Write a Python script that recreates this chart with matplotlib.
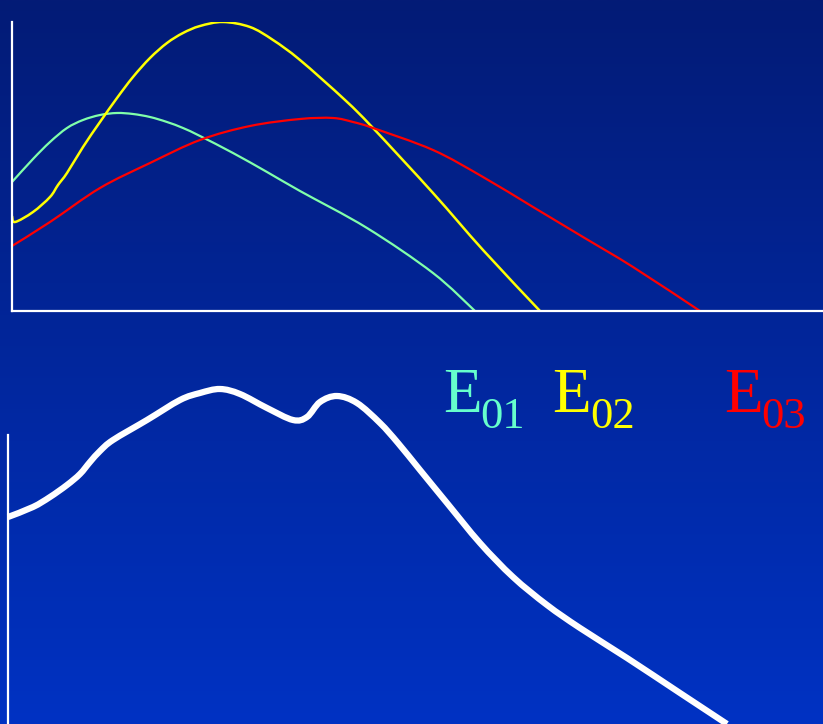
import numpy as np
import matplotlib.pyplot as plt
from matplotlib.path import Path
from matplotlib.patches import PathPatch

# top panel: three modes (x from left axis, height above baseline)
x_e01 = [0, 21, 38, 55, 71, 88, 105, 121, 138, 155, 171, 188, 221, 255, 288, 355, 421, 463]
y_e01 = [129, 152, 169, 183, 191, 196, 198, 197, 194, 189, 183, 175, 158, 139, 120, 83, 38, 0]

x_e02 = [0, 3, 21, 38, 46, 55, 71, 88, 105, 121, 138, 155, 171, 188, 211, 238, 261, 288, 333, 361, 421, 471, 528]
y_e02 = [95, 89, 99, 114, 126, 138, 164, 189, 213, 234, 253, 268, 278, 285, 289, 284, 271, 251, 211, 183, 118, 61, 0]

x_e03 = [0, 38, 88, 138, 188, 238, 288, 321, 341, 361, 421, 471, 521, 571, 621, 688]
y_e03 = [65, 89, 123, 148, 171, 185, 192, 193, 189, 183, 161, 134, 104, 74, 44, 0]

# bottom panel: summed curve
x_sum = [0, 25, 42, 59, 72, 82, 92, 105, 139, 172, 192, 212, 232, 259, 285, 299, 312, 329, 349,
         372, 390, 412, 439, 472, 505, 539, 572, 619, 672, 719]
y_sum = [207, 217, 227, 239, 250, 262, 273, 284, 304, 324, 331, 335, 330, 316, 304, 307, 322, 328, 321,
         301, 281, 254, 221, 181, 147, 119, 96, 66, 31, 0]

labels = ['01', '02', '03']
label_colors = ['#66ffcc', '#ffff00', '#ff0000']


def smooth_path(xs, ys):
    # catmull-rom through the points, drawn as cubic beziers
    p = np.column_stack([xs, ys]).astype(float)
    verts = [p[0]]
    codes = [Path.MOVETO]
    n = len(p)
    for i in range(n - 1):
        p0 = p[i - 1] if i > 0 else p[i]
        p3 = p[i + 2] if i + 2 < n else p[i + 1]
        c1 = p[i] + (p[i + 1] - p0) / 6.
        c2 = p[i + 1] - (p3 - p[i]) / 6.
        verts += [c1, c2, p[i + 1]]
        codes += [Path.CURVE4] * 3
    return Path(verts, codes)


def draw_curve(ax, xs, ys, **kw):
    patch = PathPatch(smooth_path(xs, ys), fill=False, capstyle='butt', joinstyle='round', **kw)
    ax.add_patch(patch)
    return patch


W, H = 823, 724
fig = plt.figure(figsize=(W/100, H/100), dpi=100)

# gradient background
bg = fig.add_axes([0, 0, 1, 1])
top = np.array([3, 27, 118]) / 255.
bot = np.array([0, 50, 195]) / 255.
t = np.linspace(0, 1, 256)[:, None, None]
grad = top[None, None, :] * (1 - t) + bot[None, None, :] * t
bg.imshow(grad, aspect='auto', extent=[0, 1, 0, 1], zorder=0)
bg.set_axis_off()

ax1 = fig.add_axes([12/W, 1 - 311/H, (W - 12)/W, 289/H])
ax1.patch.set_visible(False)
draw_curve(ax1, x_e01, y_e01, edgecolor='#80ffaa', lw=1.6)
draw_curve(ax1, x_e02, y_e02, edgecolor='#ffff00', lw=1.8)
draw_curve(ax1, x_e03, y_e03, edgecolor='#ff0000', lw=1.6)
ax1.set_xlim(0, W - 12)
ax1.set_ylim(0, 289)

ax2 = fig.add_axes([8/W, 0, (W - 8)/W, 289/H])
ax2.patch.set_visible(False)
draw_curve(ax2, x_sum, y_sum, edgecolor='white', lw=4.5, clip_on=False)
ax2.set_xlim(0, W - 8)
ax2.set_ylim(0, 289)

for ax in (ax1, ax2):
    ax.set_xticks([])
    ax.set_yticks([])
    for s in ['top', 'right']:
        ax.spines[s].set_visible(False)
    ax.spines['left'].set_color('white')
    ax.spines['bottom'].set_color('white')
    ax.spines['left'].set_linewidth(1.6)
    ax.spines['bottom'].set_linewidth(1.6)
ax2.spines['bottom'].set_visible(False)

# E_0n labels
e_x = [443, 552, 724]
sub_x = [480, 590, 761]
for lab, col, ex, sx in zip(labels, label_colors, e_x, sub_x):
    fig.text(ex/W, 1 - 412/H, 'E', color=col, fontsize=45.5,
             family='Liberation Serif', va='baseline', ha='left')
    fig.text(sx/W, 1 - 428/H, lab, color=col, fontsize=32,
             family='Liberation Serif', va='baseline', ha='left')

fig.savefig('out.png', dpi=100)
